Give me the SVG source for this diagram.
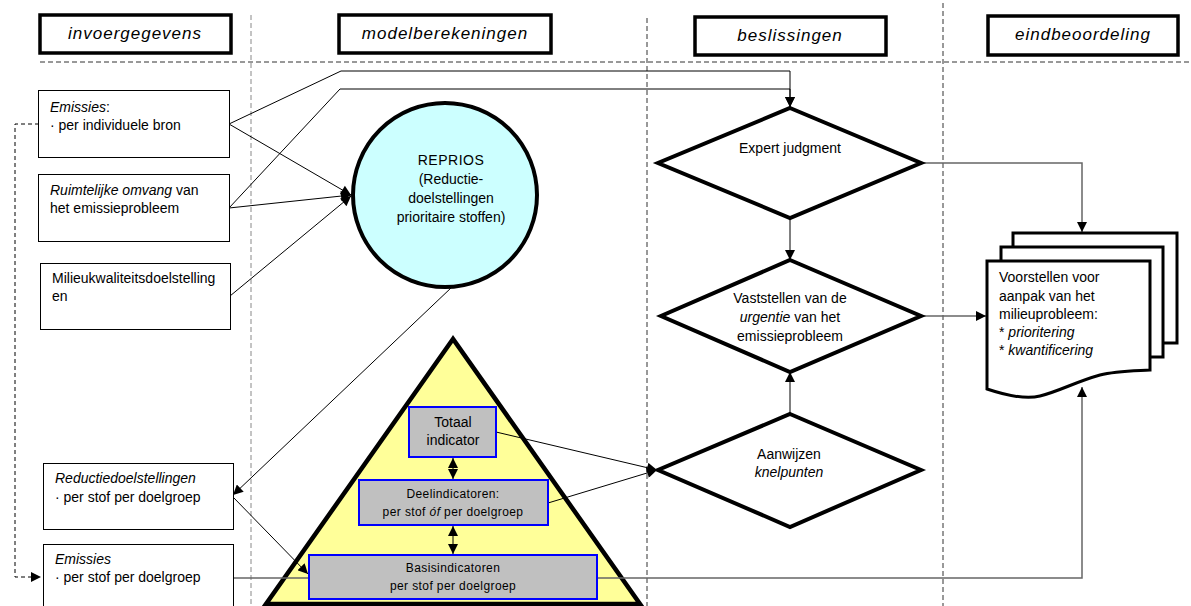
<svg xmlns="http://www.w3.org/2000/svg" width="1191" height="606" viewBox="0 0 1191 606">
  <style>
    text { font-family: "Liberation Sans", Arial, sans-serif; font-size: 14px; fill: #000; }
    .hdr { font-size: 17px; font-style: italic; letter-spacing: 1px; text-anchor: middle; }
    .hbox { fill: #fff; stroke: #000; stroke-width: 3.5; }
    .box { fill: #fff; stroke: #000; stroke-width: 1; }
    .ind { fill: #c0c0c0; stroke: #0000ff; stroke-width: 2; }
    .ind-t { font-size: 12px; letter-spacing: 0.4px; text-anchor: middle; }
    .dia { fill: #fff; stroke: #000; stroke-width: 4; }
    .mid { text-anchor: middle; }
    .it { font-style: italic; }
    .grid { fill: none; stroke: #333; stroke-width: 1; stroke-dasharray: 5 3; }
    .grid-l { fill: none; stroke: #888; stroke-width: 1; stroke-dasharray: 5 3; }
    .ln { fill: none; stroke: #000; stroke-width: 1; }
    .gl { fill: none; stroke: #666; stroke-width: 1.5; }
    .doc { fill: #fff; stroke: #000; stroke-width: 3; }
  </style>
  <defs>
    <marker id="arr" viewBox="0 0 10 10" refX="10" refY="5" markerWidth="11" markerHeight="10" markerUnits="userSpaceOnUse" orient="auto">
      <path d="M0,0 L10,5 L0,10 z" fill="#000"/>
    </marker>
    <marker id="arr2" viewBox="0 0 10 10" refX="10" refY="5" markerWidth="10" markerHeight="10" markerUnits="userSpaceOnUse" orient="auto-start-reverse">
      <path d="M0,0 L10,5 L0,10 z" fill="#000"/>
    </marker>
  </defs>

  <rect width="1191" height="606" fill="#fff"/>

  <!-- column separators -->
  <g id="grid">
    <line class="grid" x1="40" y1="62" x2="1191" y2="62"/>
    <line class="grid-l" x1="251" y1="15" x2="251" y2="606"/>
    <line class="grid" x1="647" y1="18" x2="647" y2="606"/>
    <line class="grid" x1="943" y1="3" x2="943" y2="606"/>
  </g>

  <!-- column headers -->
  <g id="hdr-invoer">
    <rect class="hbox" x="40" y="15" width="191" height="38"/>
    <text class="hdr" x="135" y="39">invoergegevens</text>
  </g>
  <g id="hdr-model">
    <rect class="hbox" x="339" y="15" width="212" height="38"/>
    <text class="hdr" x="445" y="39">modelberekeningen</text>
  </g>
  <g id="hdr-besl">
    <rect class="hbox" x="695" y="17" width="191" height="38"/>
    <text class="hdr" x="790" y="41">beslissingen</text>
  </g>
  <g id="hdr-eind">
    <rect class="hbox" x="988" y="16" width="190" height="39"/>
    <text class="hdr" x="1083" y="40">eindbeoordeling</text>
  </g>

  <!-- pyramid of indicators -->
  <g id="pyramid">
    <polygon points="453,339 266,604 640,604" fill="#ffff99" stroke="#000" stroke-width="4.5" stroke-linejoin="miter"/>
  </g>

  <!-- connectors -->
  <g id="connectors">
    <!-- inputs into REPRIOS -->
    <line class="ln" x1="229" y1="124" x2="351" y2="195" marker-end="url(#arr)"/>
    <line class="ln" x1="229" y1="208" x2="351" y2="195" marker-end="url(#arr)"/>
    <line class="ln" x1="230" y1="296" x2="351" y2="196" marker-end="url(#arr)"/>
    <!-- inputs into expert judgment -->
    <polyline class="ln" points="229,124 341,71 790,71 790,107" marker-end="url(#arr)"/>
    <polyline class="ln" points="229,208 340,89 790,89 790,107" marker-end="url(#arr)"/>
    <!-- REPRIOS to reduction targets -->
    <line class="ln" x1="452" y1="287" x2="233" y2="495" marker-end="url(#arr)"/>
    <!-- reduction targets to base indicators -->
    <line class="ln" x1="233" y1="497" x2="308" y2="574" marker-end="url(#arr)"/>
    <!-- emissions to base indicators -->
    <line class="gl" x1="233" y1="578" x2="309" y2="578"/>
    <!-- dashed feedback of emissions -->
    <polyline fill="none" stroke="#000" stroke-width="1" stroke-dasharray="4 3" points="39,124 15,124 15,577 41,577" marker-end="url(#arr)"/>
    <!-- indicators to knelpunten -->
    <line class="ln" x1="496" y1="432" x2="657" y2="470" marker-end="url(#arr)"/>
    <line class="ln" x1="548" y1="503" x2="657" y2="470" marker-end="url(#arr)"/>
    <!-- links within pyramid -->
    <line class="ln" x1="453" y1="458" x2="453" y2="479" marker-start="url(#arr2)" marker-end="url(#arr2)"/>
    <line class="ln" x1="453" y1="526" x2="453" y2="554" marker-start="url(#arr2)" marker-end="url(#arr2)"/>
    <!-- decision flow -->
    <line class="ln" x1="790" y1="218" x2="790" y2="260" marker-end="url(#arr)"/>
    <line class="ln" x1="790" y1="414" x2="790" y2="372" marker-end="url(#arr)"/>
    <line class="gl" x1="921" y1="316" x2="986" y2="316" marker-end="url(#arr)"/>
    <polyline class="gl" points="921,163 1082,163 1082,232" marker-end="url(#arr)"/>
    <polyline class="gl" points="597,578 1082,578 1082,387" marker-end="url(#arr)"/>
  </g>

  <!-- input boxes -->
  <g id="in-emissies-bron">
    <rect class="box" x="38.5" y="90.5" width="191" height="67"/>
    <text x="50" y="112"><tspan class="it">Emissies</tspan>:</text>
    <text x="50" y="130">· per individuele bron</text>
  </g>
  <g id="in-ruimtelijk">
    <rect class="box" x="38.5" y="174.5" width="191" height="67"/>
    <text x="50" y="195"><tspan class="it">Ruimtelijke omvang</tspan> van</text>
    <text x="50" y="213">het emissieprobleem</text>
  </g>
  <g id="in-milieu">
    <rect class="box" x="40.5" y="263.5" width="190" height="66"/>
    <text x="52" y="283">Milieukwaliteitsdoelstelling</text>
    <text x="52" y="301">en</text>
  </g>
  <g id="in-reductie">
    <rect class="box" x="43.5" y="463.5" width="190" height="66"/>
    <text x="55" y="483" class="it">Reductiedoelstellingen</text>
    <text x="55" y="502">· per stof per doelgroep</text>
  </g>
  <g id="in-emissies-stof">
    <rect class="box" x="43.5" y="544.5" width="190" height="70"/>
    <text x="55" y="564" class="it">Emissies</text>
    <text x="55" y="582">· per stof per doelgroep</text>
  </g>

  <!-- model -->
  <g id="reprios">
    <circle cx="445" cy="195" r="92" fill="#ccffff" stroke="#000" stroke-width="4"/>
    <text class="mid" x="451" y="165" letter-spacing="0.5">REPRIOS</text>
    <text class="mid" x="451" y="184">(Reductie-</text>
    <text class="mid" x="451" y="203">doelstellingen</text>
    <text class="mid" x="451" y="222">prioritaire stoffen)</text>
  </g>

  <g id="ind-totaal">
    <rect class="ind" x="409" y="407" width="87" height="50"/>
    <text class="mid" x="453" y="427">Totaal</text>
    <text class="mid" x="453" y="445">indicator</text>
  </g>
  <g id="ind-deel">
    <rect class="ind" x="359" y="480" width="189" height="45"/>
    <text class="ind-t" x="453" y="498">Deelindicatoren:</text>
    <text class="ind-t" x="453" y="516">per stof <tspan class="it">óf</tspan> per doelgroep</text>
  </g>
  <g id="ind-basis">
    <rect class="ind" x="309" y="555" width="288" height="44"/>
    <text class="ind-t" x="453" y="572">Basisindicatoren</text>
    <text class="ind-t" x="453" y="590">per stof per doelgroep</text>
  </g>

  <!-- decisions -->
  <g id="expert">
    <polygon class="dia" points="790,108 921,163 790,218 658,163"/>
    <text class="mid" x="790" y="153">Expert judgment</text>
  </g>
  <g id="urgentie">
    <polygon class="dia" points="790,260 921,316 790,372 661,316"/>
    <text class="mid" x="790" y="303">Vaststellen van de</text>
    <text class="mid" x="790" y="322"><tspan class="it">urgentie</tspan> van het</text>
    <text class="mid" x="790" y="341">emissieprobleem</text>
  </g>
  <g id="knelpunten">
    <polygon class="dia" points="790,414 921,470 790,527 658,470"/>
    <text class="mid" x="789" y="459">Aanwijzen</text>
    <text class="mid it" x="789" y="477">knelpunten</text>
  </g>

  <!-- final assessment: stacked documents -->
  <g id="voorstellen">
    <rect class="doc" x="1013" y="233" width="164" height="110"/>
    <rect class="doc" x="1001" y="247" width="162" height="110"/>
    <path class="doc" d="M987,261 H1150 V370 C1130,371 1115,371 1100,375 C1075,382 1060,391 1040,396 C1025,400 1005,395 987,389 Z"/>
    <text x="999" y="282">Voorstellen voor</text>
    <text x="999" y="301">aanpak van het</text>
    <text x="999" y="319">milieuprobleem:</text>
    <text x="999" y="337">* <tspan class="it">prioritering</tspan></text>
    <text x="999" y="355">* <tspan class="it">kwantificering</tspan></text>
  </g>
</svg>
